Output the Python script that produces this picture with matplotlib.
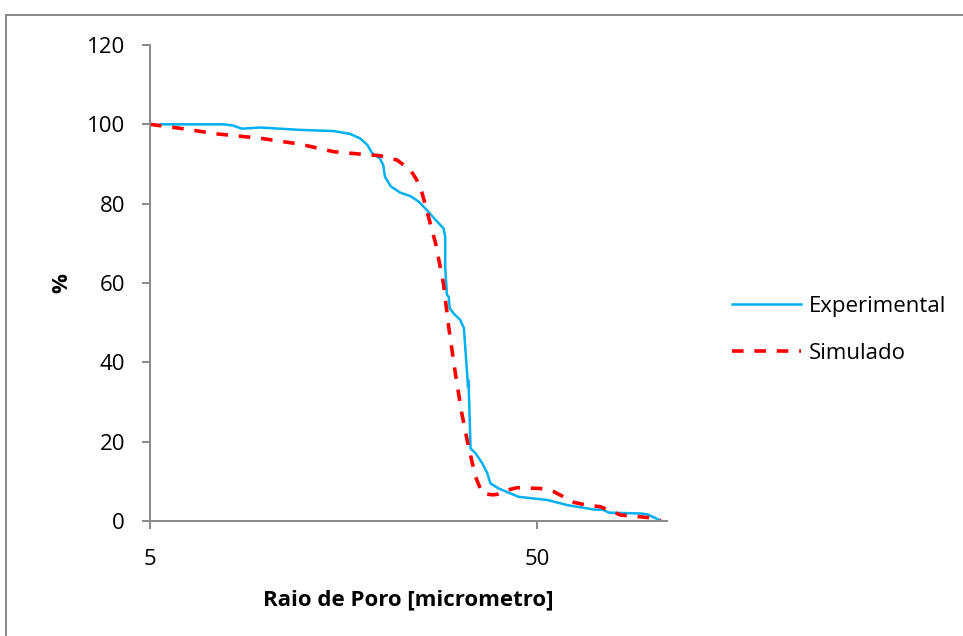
import matplotlib
matplotlib.use("Agg")
import matplotlib.pyplot as plt
from matplotlib.lines import Line2D
from matplotlib.ticker import NullLocator

# Experimental curve
exp_x = [5.3, 7.73, 8.19, 8.63, 9.62, 12.2, 14.9, 16.4, 17.4, 18.2, 18.7, 19.6, 20.0, 20.2,
         20.9, 22.1, 23.5, 24.7, 25.9, 27.3, 28.6, 28.9, 28.9, 29.2, 29.5, 29.7, 30.4, 31.6,
         32.3, 32.6, 32.9, 33.1, 33.2, 33.6, 34.6, 36.0, 37.1, 37.8, 39.7, 44.7, 53.0, 59.8,
         69.8, 74.0, 76.5, 92.0, 96.0, 104.0]
exp_y = [100.0, 100.0, 99.7, 98.9, 99.2, 98.6, 98.3, 97.6, 96.5, 94.8, 92.8, 91.4, 89.7, 86.8,
         84.4, 82.8, 81.9, 80.5, 78.4, 75.9, 73.8, 71.7, 64.1, 57.0, 56.5, 53.6, 52.3, 50.7,
         48.6, 43.1, 37.5, 33.8, 35.5, 18.3, 17.1, 14.6, 12.1, 9.5, 8.2, 6.1, 5.3, 4.0,
         2.9, 2.8, 2.1, 1.9, 1.7, 0.1]

# Simulated curve
sim_x = [5.0, 5.98, 7.43, 9.62, 12.2, 14.9, 17.4, 19.6, 21.7, 23.5, 24.4, 25.2, 25.9, 26.7,
         27.3, 28.6, 29.5, 30.7, 31.9, 33.2, 34.6, 36.0, 38.2, 39.3, 41.8, 44.3, 50.9, 55.1,
         58.4, 62.1, 67.0, 72.7, 82.0, 96.0, 104.0]
sim_y = [100.0, 99.0, 97.6, 96.5, 95.0, 93.1, 92.5, 92.1, 91.0, 88.5, 86.0, 82.6, 78.4, 73.4,
         70.0, 59.9, 49.0, 37.2, 27.1, 18.7, 11.2, 7.0, 6.6, 6.7, 7.8, 8.4, 8.2, 7.4,
         6.1, 4.7, 4.0, 3.6, 1.5, 0.9, 0.1]

y_ticks = [0, 20, 40, 60, 80, 100, 120]
x_ticks = [5, 50]
x_tick_labels = ["5", "50"]
series_labels = ['Experimental', 'Simulado']

plt.rcParams['font.family'] = ['Open Sans', 'DejaVu Sans']

fig = plt.figure(figsize=(9.63, 6.36), dpi=100)
ax = fig.add_axes([150/963, 1 - 521/636, (667 - 150)/963, (521 - 45)/636])

blue = '#00B0F0'
red = '#FF0000'
gray = '#898989'
ax.plot(exp_x, exp_y, color=blue, lw=1.8, solid_joinstyle='round', solid_capstyle='round')
ax.plot(sim_x, sim_y, color=red, lw=2.6, dashes=(3.2, 3.0))

ax.set_xscale('log')
ax.set_xlim(5, 108)
ax.set_ylim(0, 120)
ax.set_yticks(y_ticks)
ax.set_xticks(x_ticks)
ax.set_xticklabels(x_tick_labels)
ax.xaxis.set_minor_locator(NullLocator())

for s in ['top', 'right']:
    ax.spines[s].set_visible(False)
for s in ['left', 'bottom']:
    ax.spines[s].set_color(gray)
    ax.spines[s].set_linewidth(1.4)
ax.tick_params(axis='both', direction='out', length=6, width=1.4, color=gray,
               labelsize=16)
ax.tick_params(axis='y', pad=12)
ax.tick_params(axis='x', pad=14)

ax.set_xlabel('Raio de Poro [micrometro]', fontsize=16, fontweight='bold', labelpad=14)
ax.set_ylabel('%', fontsize=16, fontweight='bold', labelpad=10)

handles = [Line2D([0], [0], color=blue, lw=1.8),
           Line2D([0], [0], color=red, lw=2.6, dashes=(3.2, 3.0))]
fig.legend(handles, series_labels, loc='center left',
           bbox_to_anchor=(721/963, 1 - 330/636), frameon=False, fontsize=16,
           borderpad=0, handlelength=3.1, handletextpad=0.36, labelspacing=1.15)

# outer chart border
fig.add_artist(Line2D([6/963, 6/963], [0, 1 - 15/636], transform=fig.transFigure,
                      color=gray, lw=1.4))
fig.add_artist(Line2D([6/963, 1], [1 - 15/636, 1 - 15/636], transform=fig.transFigure,
                      color=gray, lw=1.4))

fig.savefig('out.png', dpi=100)
